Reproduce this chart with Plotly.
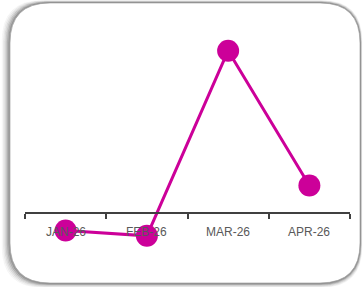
import plotly.graph_objects as go

categories = ["JAN-26", "FEB-26", "MAR-26", "APR-26"]
values = [-1.07, -1.40, 10.0, 1.70]

W, H = 363, 287
y_min, y_max = -4.55, 13.12

fig = go.Figure()
fig.add_trace(go.Scatter(
    x=categories, y=values, mode="lines+markers",
    line=dict(color="#CC0099", width=3),
    marker=dict(color="#CC0099", size=22),
    cliponaxis=True, showlegend=False, hoverinfo="skip",
))


def rrect(x0, y0, x1, y1, r):
    # pixel coords -> paper
    def P(x, y):
        return f"{x / W:.5f},{1 - y / H:.5f}"
    return (f"M {P(x0 + r, y0)} L {P(x1 - r, y0)} Q {P(x1, y0)} {P(x1, y0 + r)} "
            f"L {P(x1, y1 - r)} Q {P(x1, y1)} {P(x1 - r, y1)} "
            f"L {P(x0 + r, y1)} Q {P(x0, y1)} {P(x0, y1 - r)} "
            f"L {P(x0, y0 + r)} Q {P(x0, y0)} {P(x0 + r, y0)} Z")

shapes = []
# soft shadow layers
for i, a in enumerate([0.04, 0.06, 0.09, 0.13, 0.18, 0.25]):
    d = 6 - i
    shapes.append(dict(type="path", xref="paper", yref="paper", layer="below",
                       path=rrect(10 - d * 1.3, 3 - d * 0.4, 360 + d * 0.3, 283 + d * 0.7, 40),
                       line=dict(color=f"rgba(90,90,90,{a})", width=1),
                       fillcolor=f"rgba(90,90,90,{a})"))
shapes.append(dict(type="path", xref="paper", yref="paper", layer="below",
                   path=rrect(10, 3, 360, 283, 40),
                   line=dict(color="rgba(150,150,150,0.6)", width=1),
                   fillcolor="white"))

pos = (0 - y_min) / (y_max - y_min)

# category labels drawn above the markers
annotations = [
    dict(x=c, y=0, xref="x", yref="y", text=c, showarrow=False,
         yshift=-19, font=dict(family="Liberation Sans, Arial", size=12, color="#595959"))
    for c in categories
]

fig.update_layout(
    width=W, height=H,
    margin=dict(l=0, r=0, t=0, b=0),
    paper_bgcolor="white", plot_bgcolor="rgba(0,0,0,0)",
    shapes=shapes, annotations=annotations,
    xaxis=dict(
        domain=[25 / W, 350 / W], anchor="free", position=pos,
        range=[-0.5, 3.5], type="category", layer="above traces",
        tickson="boundaries", ticks="outside", ticklen=5, tickwidth=1.5,
        tickcolor="#404040", showline=True, linecolor="#404040", linewidth=1.5,
        showgrid=False, zeroline=False, showticklabels=False,
    ),
    yaxis=dict(domain=[0, 1], range=[y_min, y_max], visible=False,
               showgrid=False, zeroline=False),
)

fig.write_html("out.html", config={"displayModeBar": False},
               post_script="document.body.style.margin='0';document.body.style.overflow='hidden';")
